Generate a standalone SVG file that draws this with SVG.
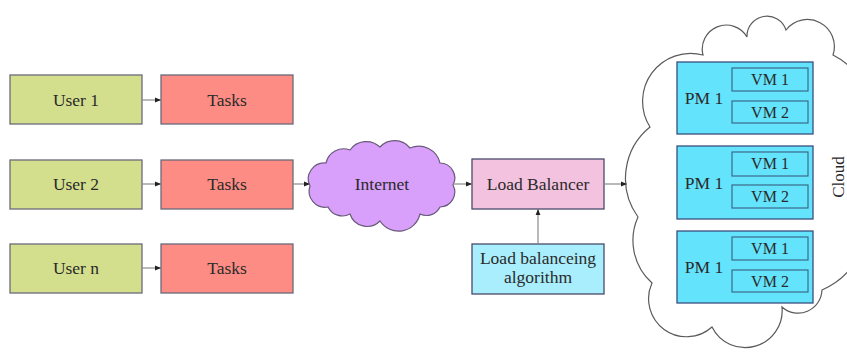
<svg xmlns="http://www.w3.org/2000/svg" width="847" height="358" viewBox="0 0 847 358">
<defs>
<marker id="ah" viewBox="0 0 10 10" refX="10" refY="5" markerWidth="6" markerHeight="6" orient="auto" markerUnits="userSpaceOnUse">
<path d="M0,1 L10,5 L0,9 z" fill="#222"/>
</marker>
<style>
text{font-family:"Liberation Serif","Times New Roman",serif;fill:#2a2a2a;text-anchor:middle}
.t{font-size:17.5px}
.s{font-size:16px}
.user{fill:#D3DF8D;stroke:#6a6a7a;stroke-width:1.3}
.task{fill:#FD8C84;stroke:#6a6a7a;stroke-width:1.3}
.lb{fill:#F2C2DF;stroke:#4a4a6a;stroke-width:1.3}
.alg{fill:#A9EEFC;stroke:#4a4a6a;stroke-width:1.3}
.pm{fill:#64E3FD;stroke:#3a4f80;stroke-width:1.3}
.vm{fill:#64E3FD;stroke:#3a6a8a;stroke-width:1.2}
.cn{fill:none;stroke:#8a8a8a;stroke-width:1.2;marker-end:url(#ah)}
</style>
</defs>
<rect width="847" height="358" fill="#fff"/>

<g id="cloud">
<path d="M638,217 A66,66 0 0 1 650,127 A48,48 0 0 1 703,55 A24,24 0 0 1 747,37 A20,20 0 0 1 786,30 A27,27 0 0 1 833,55 A75,75 0 0 1 852,175 A75,75 0 0 1 822,290 A24,24 0 0 1 782,307 A37,37 0 0 1 712,327 A38,38 0 0 1 652,283 A57,57 0 0 1 638,217 Z" fill="#fff" stroke="#5a5a5a" stroke-width="1.2"/>
<text class="t" transform="translate(844,177) rotate(-90)" style="font-size:17px">Cloud</text>
</g>

<g id="user1"><rect class="user" x="10" y="75" width="132" height="49"/><text class="t" x="76" y="106">User 1</text></g>
<g id="user2"><rect class="user" x="10" y="160" width="132" height="49"/><text class="t" x="76" y="190">User 2</text></g>
<g id="usern"><rect class="user" x="10" y="244" width="132" height="49"/><text class="t" x="76" y="274">User n</text></g>

<g id="tasks1"><rect class="task" x="161" y="75" width="132" height="49"/><text class="t" x="227" y="106">Tasks</text></g>
<g id="tasks2"><rect class="task" x="161" y="160" width="132" height="49"/><text class="t" x="227" y="190">Tasks</text></g>
<g id="tasksn"><rect class="task" x="161" y="244" width="132" height="49"/><text class="t" x="227" y="274">Tasks</text></g>

<g id="internet">
<path d="M310,186 A16,16 0 0 1 326,163 A18,18 0 0 1 350,150 A20,20 0 0 1 380,147 A20,20 0 0 1 410,148 A22,22 0 0 1 440,163 A15,15 0 0 1 453,185 A15,15 0 0 1 440,207 A15,15 0 0 1 420,214 A22,22 0 0 1 380,221 A18,18 0 0 1 350,214 A16,16 0 0 1 328,207 A16,16 0 0 1 310,186 Z" fill="#D8A0FA" stroke="#6a5a7a" stroke-width="1.2"/>
<text class="t" x="382" y="190">Internet</text>
</g>

<g id="lb"><rect class="lb" x="472" y="159" width="132" height="50"/><text class="t" x="538" y="190">Load Balancer</text></g>
<g id="alg"><rect class="alg" x="472" y="244" width="132" height="50"/><text class="t" x="538" y="264">Load balanceing</text><text class="t" x="538" y="283">algorithm</text></g>

<g id="pm1"><rect class="pm" x="677" y="62" width="136" height="72"/><text class="t" x="704" y="104">PM 1</text>
<rect class="vm" x="732" y="68" width="76" height="23"/><text class="s" x="770" y="85">VM 1</text>
<rect class="vm" x="732" y="101" width="76" height="22"/><text class="s" x="770" y="118">VM 2</text></g>
<g id="pm2"><rect class="pm" x="677" y="146" width="136" height="73"/><text class="t" x="704" y="189">PM 1</text>
<rect class="vm" x="732" y="152" width="76" height="24"/><text class="s" x="770" y="169">VM 1</text>
<rect class="vm" x="732" y="185" width="76" height="23"/><text class="s" x="770" y="202">VM 2</text></g>
<g id="pm3"><rect class="pm" x="677" y="231" width="136" height="72"/><text class="t" x="704" y="273">PM 1</text>
<rect class="vm" x="732" y="237" width="76" height="23"/><text class="s" x="770" y="254">VM 1</text>
<rect class="vm" x="732" y="270" width="76" height="22"/><text class="s" x="770" y="287">VM 2</text></g>

<g id="connectors">
<line class="cn" x1="142" y1="100" x2="161" y2="100"/>
<line class="cn" x1="142" y1="184" x2="161" y2="184"/>
<line class="cn" x1="142" y1="268" x2="161" y2="268"/>
<line class="cn" x1="293" y1="184" x2="310" y2="184"/>
<line class="cn" x1="453" y1="184" x2="472" y2="184"/>
<line class="cn" x1="538" y1="244" x2="538" y2="209"/>
<line class="cn" x1="604" y1="184" x2="627" y2="184"/>
</g>
</svg>
